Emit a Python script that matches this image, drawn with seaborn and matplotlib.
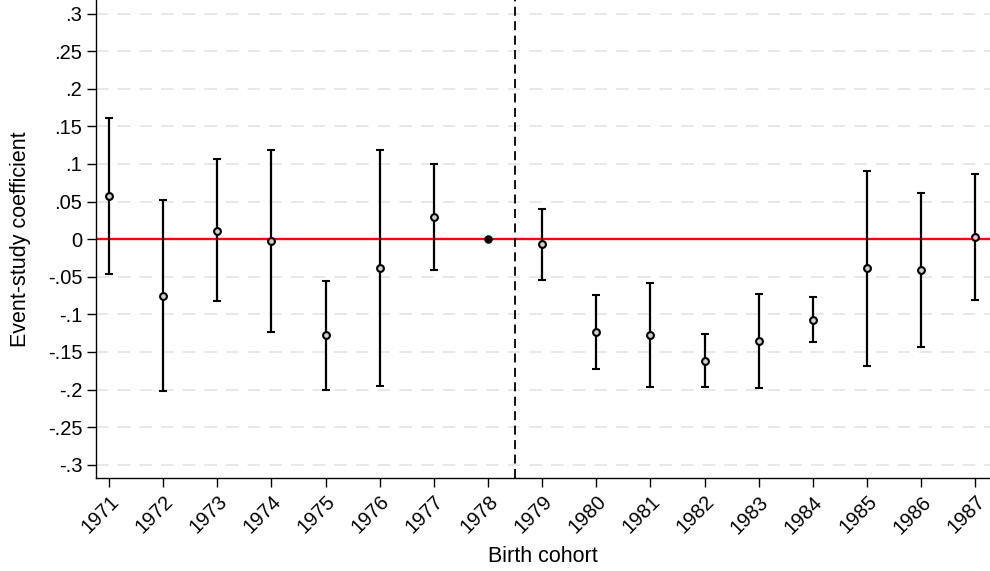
import numpy as np
import pandas as pd
import matplotlib
matplotlib.use("Agg")
import matplotlib.pyplot as plt
import seaborn as sns

# event-study estimates
cohorts = [1971, 1972, 1973, 1974, 1975, 1976, 1977, 1978, 1979,
           1980, 1981, 1982, 1983, 1984, 1985, 1986, 1987]
coef = [0.058, -0.075, 0.0115, -0.003, -0.128, -0.038, 0.029, 0.0, -0.007,
        -0.123, -0.127, -0.1615, -0.135, -0.107, -0.039, -0.041, 0.003]
ci_hi = [0.1615, 0.052, 0.106, 0.118, -0.0557, 0.119, 0.0996, 0.0, 0.040,
         -0.0743, -0.0584, -0.1256, -0.0725, -0.0774, 0.090, 0.061, 0.087]
ci_lo = [-0.046, -0.202, -0.082, -0.124, -0.201, -0.1955, -0.0415, 0.0, -0.054,
         -0.1726, -0.196, -0.1964, -0.198, -0.1367, -0.169, -0.1434, -0.0814]
yticks = [0.3, 0.25, 0.2, 0.15, 0.1, 0.05, 0, -0.05, -0.1, -0.15, -0.2, -0.25, -0.3]
ytick_labels = [".3", ".25", ".2", ".15", ".1", ".05", "0", "-.05", "-.1",
                "-.15", "-.2", "-.25", "-.3"]
ref_cohort = 1978

df = pd.DataFrame({"cohort": cohorts, "coef": coef, "lo": ci_lo, "hi": ci_hi})

sns.set_style("white")
plt.rcParams['font.family'] = ['Liberation Sans', 'DejaVu Sans']
plt.rcParams['text.color'] = 'black'
plt.rcParams['axes.labelcolor'] = 'black'
plt.rcParams['xtick.color'] = 'black'
plt.rcParams['ytick.color'] = 'black'

fig = plt.figure(figsize=(9.9, 5.71), dpi=100)
ax = fig.add_axes([0.097, 0.1623, 0.903, 0.8377])

# light dashed grid
for y in yticks:
    ax.axhline(y, color="#e6e6e6", lw=1.3, ls=(0, (7, 5)), zorder=0)

ax.axhline(0, color="red", lw=1.7, zorder=1)
ax.axvline(ref_cohort + 0.5, color="black", lw=1.3, ls=(0, (5, 3)), zorder=1)

est = df[df.cohort != ref_cohort]
ax.errorbar(est.cohort, est.coef,
            yerr=[est.coef - est.lo, est.hi - est.coef],
            fmt="none", ecolor="black", elinewidth=1.6, capsize=2.7,
            capthick=1.5, zorder=2)
sns.scatterplot(data=est, x="cohort", y="coef", ax=ax, marker="o", s=24,
                facecolor="#d0d0d0", edgecolor="black", linewidth=1.5, zorder=3)
ref = df[df.cohort == ref_cohort]
sns.scatterplot(data=ref, x="cohort", y="coef", ax=ax, marker="o", s=26,
                color="black", edgecolor="black", linewidth=1, zorder=3)

ax.set_xlim(1970.76, 1987.27)
ax.set_ylim(-0.318, 0.318)
ax.set_yticks(yticks)
ax.set_yticklabels(ytick_labels)
ax.set_xticks(cohorts)
ax.set_xticklabels([str(c) for c in cohorts], rotation=45, ha="right",
                   va="top", rotation_mode="anchor")

ax.tick_params(axis="both", labelsize=14.5, direction="out", color="black",
               width=1, length=6.5, left=True, bottom=True, pad=3.5)
for s in ["top", "right"]:
    ax.spines[s].set_visible(False)
for s in ["left", "bottom"]:
    ax.spines[s].set_color("black")
    ax.spines[s].set_linewidth(1)

ax.set_xlabel("Birth cohort", fontsize=15.5, labelpad=6)
ax.set_ylabel("Event-study coefficient", fontsize=15.5, labelpad=12)

fig.savefig("out.png", dpi=100)
